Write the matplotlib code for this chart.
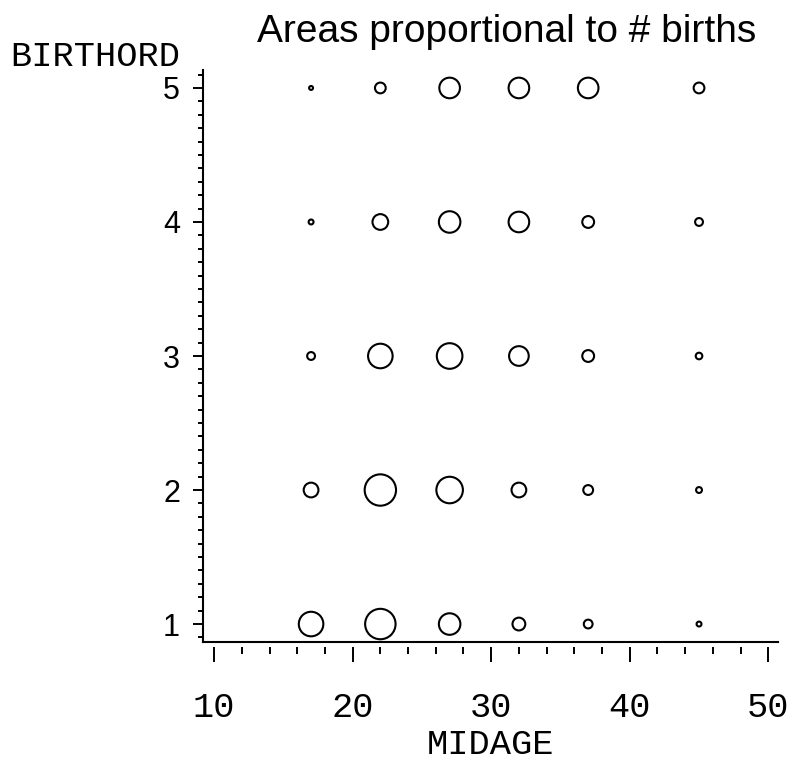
import matplotlib.pyplot as plt
from matplotlib.ticker import MultipleLocator

# mother's mid-age group, birth order, and number of births (marker area)
midage = [17, 22, 27, 32, 37, 45]
birthord = [1, 2, 3, 4, 5]
births = [
    [625, 960, 480, 170, 80, 25],   # birth order 1
    [225, 1020, 730, 225, 100, 36],  # birth order 2
    [64, 625, 680, 400, 145, 45],   # birth order 3
    [25, 256, 480, 440, 145, 64],   # birth order 4
    [16, 120, 440, 440, 440, 120],  # birth order 5
]

mono = "Liberation Mono"
sans = "Liberation Sans"

fig = plt.figure(figsize=(7.92, 7.63), dpi=100)
ax = fig.add_axes([203 / 792, 121 / 763, 575 / 792, 572 / 763])

for row, order in zip(births, birthord):
    ax.scatter(midage, [order] * len(midage), s=[b * 0.5 for b in row],
               facecolors="none", edgecolors="black", linewidths=1.5)

ax.set_xlim(9.2, 50.7)
ax.set_ylim(0.866, 5.134)

for side in ["top", "right"]:
    ax.spines[side].set_visible(False)
ax.spines["left"].set_linewidth(1.5)
ax.spines["bottom"].set_linewidth(1.5)

# y axis
ax.set_yticks(birthord)
ax.yaxis.set_minor_locator(MultipleLocator(0.1))
ax.tick_params(axis="y", which="major", length=7.5, width=1.4, pad=9)
ax.tick_params(axis="y", which="minor", length=3.6, width=1.4)
for lab in ax.get_yticklabels():
    lab.set_fontfamily(sans)
    lab.set_fontsize(22)

# x axis ticks sit slightly below the axis line
ax.tick_params(axis="x", which="both", bottom=False, labelbottom=False)
sec = ax.secondary_xaxis(-5 / 572)
sec.spines["bottom"].set_visible(False)
sec.set_xticks([10, 20, 30, 40, 50])
sec.xaxis.set_minor_locator(MultipleLocator(2))
sec.tick_params(axis="x", which="major", length=11, width=1.4, pad=21)
sec.tick_params(axis="x", which="minor", length=5, width=1.4)
for lab in sec.get_xticklabels():
    lab.set_fontfamily(mono)
    lab.set_fontsize(25.5)

fig.text(490 / 792, 1 - 745 / 763, "MIDAGE", family=mono, fontsize=25.5,
         ha="center", va="center")
fig.text(10 / 792, 1 - 57 / 763, "BIRTHORD", family=mono, fontsize=25.5,
         ha="left", va="center")
fig.text(507 / 792, 1 - 32 / 763, "Areas proportional to # births",
         family=sans, fontsize=28, ha="center", va="center")

fig.savefig("out.png", dpi=100)
